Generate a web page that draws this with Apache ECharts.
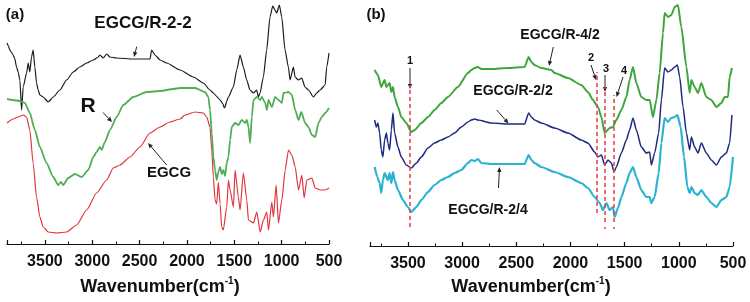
<html>
<head>
<meta charset="UTF-8">
<title>FTIR spectra</title>
<script src="https://cdn.jsdelivr.net/npm/echarts@6/dist/echarts.min.js"></script>
<style>
    body{ margin:0; background:#fff; }
    #main{ width:750px; height:302px; }
</style>
</head>
<body>
<div id="main"></div>
<script>
// wavenumber (cm-1), transmittance (a.u.)
var blackA = [[3900,201],[3885,198],[3870,194],[3855,192],[3835,189],[3820,186],[3799,177],[3782,172],[3764,164],[3746,134],[3729,157],[3693,171],[3676,181],[3659,172],[3641,187],[3624,194],[3606,177],[3588,161],[3571,154],[3553,149],[3518,147],[3465,142],[3412,147],[3341,154],[3271,164],[3200,172],[3130,177],[3059,181],[2989,184],[2936,187],[2919,189],[2884,186],[2848,190],[2813,187],[2743,186],[2567,185],[2390,185],[2373,194],[2337,189],[2284,184],[2214,181],[2073,174],[1932,167],[1827,161],[1756,154],[1721,151],[1690,148],[1670,146],[1650,144],[1620,140],[1605,136],[1597,137],[1580,143],[1562,147],[1510,157],[1474,174],[1439,189],[1404,177],[1369,164],[1334,154],[1298,151],[1263,154],[1246,147],[1228,151],[1193,167],[1158,194],[1123,227],[1094,238],[1070,234],[1052,231],[1024,239],[999,227],[964,194],[929,177],[911,164],[876,177],[858,167],[823,164],[788,166],[753,157],[717,154],[664,147],[629,151],[594,154],[541,159],[524,177],[500,191]];
var greenA = [[3900,145],[3835,144],[3764,143],[3711,141],[3659,131],[3606,114],[3553,97],[3482,81],[3412,67],[3359,59],[3330,62],[3306,59],[3254,66],[3183,70],[3112,67],[3042,74],[2989,87],[2954,92],[2919,97],[2901,94],[2866,102],[2813,114],[2742,127],[2672,139],[2567,147],[2425,152],[2284,153],[2144,155],[2073,156],[1914,156],[1809,152],[1774,147],[1756,134],[1738,111],[1721,87],[1703,74],[1686,64],[1668,72],[1650,77],[1632,70],[1615,74],[1597,68],[1580,81],[1562,87],[1544,104],[1527,117],[1492,121],[1456,119],[1421,124],[1386,121],[1368,124],[1350,117],[1333,101],[1315,127],[1297,144],[1262,147],[1227,144],[1209,147],[1174,141],[1156,134],[1139,144],[1103,137],[1068,147],[1033,144],[998,141],[980,151],[927,152],[892,149],[857,134],[822,124],[793,132],[752,121],[717,117],[681,109],[646,107],[611,121],[576,127],[540,131],[500,136]];
var redA = [[3900,121],[3835,125],[3782,127],[3729,129],[3693,127],[3659,114],[3624,81],[3588,47],[3553,27],[3518,17],[3465,12],[3376,11],[3271,12],[3165,19],[3059,34],[2954,51],[2848,64],[2778,76],[2707,79],[2601,87],[2496,97],[2390,111],[2284,117],[2179,122],[2073,125],[2020,129],[1914,132],[1827,131],[1791,127],[1756,117],[1738,94],[1721,67],[1703,44],[1686,40],[1668,62],[1650,40],[1633,17],[1616,14],[1580,37],[1562,64],[1545,54],[1509,37],[1492,74],[1457,47],[1439,34],[1404,71],[1368,44],[1351,24],[1298,21],[1262,32],[1227,12],[1192,24],[1157,32],[1139,14],[1104,42],[1087,27],[1058,59],[1034,21],[998,44],[963,74],[928,94],[892,89],[857,77],[822,54],[787,69],[762,46],[734,64],[681,66],[646,56],[593,54],[540,54],[500,56]];

var greenB = [[3807,176],[3777,171],[3746,159],[3715,166],[3699,159],[3669,163],[3653,154],[3638,159],[3623,149],[3592,139],[3561,129],[3515,123],[3469,114],[3438,116],[3376,123],[3315,129],[3254,136],[3192,143],[3131,149],[3039,159],[2946,173],[2915,176],[2884,178],[2854,179],[2823,177],[2730,177],[2577,178],[2423,179],[2386,189],[2361,184],[2331,181],[2269,178],[2176,176],[2146,173],[2023,168],[1900,161],[1839,154],[1792,146],[1746,139],[1715,129],[1684,113],[1638,118],[1608,119],[1577,126],[1530,136],[1484,149],[1454,166],[1423,179],[1392,163],[1346,149],[1300,146],[1269,146],[1239,129],[1207,146],[1177,173],[1146,213],[1131,233],[1100,229],[1069,231],[1038,239],[1008,241],[977,219],[930,179],[900,153],[884,166],[854,159],[823,153],[792,163],[746,149],[700,146],[653,139],[607,143],[577,149],[546,149],[531,169],[510,178]];
var navyB = [[3807,126],[3792,119],[3777,123],[3761,113],[3746,96],[3731,89],[3715,106],[3699,113],[3685,103],[3669,96],[3653,116],[3638,133],[3623,113],[3592,99],[3561,89],[3515,81],[3469,78],[3422,83],[3376,89],[3315,98],[3254,103],[3192,106],[3131,109],[3069,113],[3007,119],[2946,124],[2915,126],[2884,127],[2854,126],[2730,123],[2577,122],[2423,122],[2386,133],[2361,129],[2331,126],[2269,123],[2146,118],[2023,113],[1900,106],[1839,103],[1777,94],[1746,89],[1715,91],[1684,81],[1654,86],[1622,83],[1598,74],[1577,79],[1530,93],[1484,106],[1454,116],[1423,128],[1392,116],[1346,99],[1300,93],[1269,94],[1254,81],[1223,93],[1186,113],[1161,146],[1131,178],[1100,174],[1069,176],[1038,179],[1013,181],[992,169],[961,139],[930,113],[900,96],[884,109],[854,99],[823,93],[792,103],[746,93],[700,86],[653,81],[607,89],[561,93],[531,103],[510,131]];
var cyanB = [[3807,79],[3782,69],[3761,63],[3746,53],[3731,66],[3715,73],[3685,66],[3669,73],[3653,63],[3638,74],[3623,66],[3592,56],[3546,46],[3500,39],[3469,34],[3422,39],[3376,46],[3315,54],[3254,61],[3192,66],[3131,69],[3069,73],[3007,76],[2946,83],[2915,86],[2884,85],[2854,87],[2823,83],[2730,82],[2577,82],[2423,82],[2386,91],[2361,86],[2331,83],[2269,79],[2146,74],[2023,69],[1900,63],[1839,58],[1777,49],[1731,43],[1700,36],[1669,43],[1638,36],[1608,39],[1592,29],[1562,38],[1530,49],[1484,63],[1454,73],[1423,79],[1392,69],[1346,56],[1300,49],[1269,49],[1254,43],[1223,49],[1186,73],[1161,103],[1131,128],[1100,124],[1069,128],[1038,129],[1013,131],[983,119],[952,89],[921,59],[900,53],[884,59],[854,53],[823,51],[792,56],[746,49],[700,43],[653,39],[607,46],[561,49],[531,59],[500,89]];

// red dashed guide lines in (b): [wavenumber, from, to]
var guideLines = [[3480,19,161],[1760,33,174],[1686,24,159],[1596,24,151]];
var guideDots = [[1686,17,19],[1596,17,19]];

var myChart = echarts.init(document.getElementById('main'));

var font = 'Liberation Sans, Arial, sans-serif';

function arrow(x1, y1, x2, y2) {
    var a = Math.atan2(y2 - y1, x2 - x1), L = 5, W = 2.2;
    var bx = x2 - L * Math.cos(a), by = y2 - L * Math.sin(a);
    return [{
        type: 'line', silent: true,
        shape: {x1: x1, y1: y1, x2: bx, y2: by},
        style: {stroke: '#222', lineWidth: 1}
    }, {
        type: 'polygon', silent: true,
        shape: {points: [[x2, y2], [bx - W * Math.sin(a), by + W * Math.cos(a)], [bx + W * Math.sin(a), by - W * Math.cos(a)]]},
        style: {fill: '#222'}
    }];
}
function label(x, y, text, size) {
    return {
        type: 'text', silent: true, x: x, y: y,
        style: {text: text, font: 'bold ' + size + 'px ' + font, fill: '#111', align: 'center', verticalAlign: 'middle'}
    };
}
function axisTitle(x, y) {
    return {
        type: 'text', silent: true, x: x, y: y,
        style: {
            text: 'Wavenumber(cm{sup|-1})', align: 'center', verticalAlign: 'middle',
            font: 'bold 18px ' + font, fill: '#111',
            rich: {sup: {fontSize: 10, fontWeight: 'bold', fontFamily: font, verticalAlign: 'top', padding: [0, 0, 12, 0]}}
        }
    };
}

var graphics = [
    label(15, 15, '(a)', 15),
    label(376, 15, '(b)', 15),
    label(143, 23, 'EGCG/R-2-2', 17),
    label(88, 106, 'R', 21),
    label(169, 173, 'EGCG', 15),
    label(560, 35, 'EGCG/R-4/2', 14),
    label(513, 91, 'EGCG/R-2/2', 14),
    label(488, 210, 'EGCG/R-2/4', 14),
    label(410, 61, '1', 11),
    label(591, 58, '2', 11),
    label(606, 69, '3', 11),
    label(624, 71, '4', 11),
    axisTitle(160, 287),
    axisTitle(531, 287)
].concat(
    arrow(136.7, 46.7, 134, 57),
    arrow(103, 112.5, 112, 122),
    arrow(166.7, 165, 148, 143),
    arrow(410, 68, 410, 89),
    arrow(591, 65, 596, 80),
    arrow(605, 75, 605, 92),
    arrow(623, 77, 616.5, 97),
    arrow(553.3, 47, 549, 66),
    arrow(496.7, 110, 508.5, 123.5),
    arrow(498.5, 188, 499.5, 167)
);

function xAxisOf(idx, maxWn) {
    return {
        gridIndex: idx, type: 'value', inverse: true,
        min: 500, max: maxWn, interval: 500,
        axisLine: {lineStyle: {color: '#111', width: 1.2}},
        axisTick: {inside: true, length: 4, lineStyle: {color: '#111', width: 1.2}},
        minorTick: {show: true, splitNumber: 2, length: 2.5, lineStyle: {color: '#111', width: 1}},
        splitLine: {show: false},
        axisLabel: {
            showMaxLabel: false, margin: 10, color: '#111', fontSize: 16, fontWeight: 'bold', fontFamily: font,
            formatter: function (v) { return String(v); }
        }
    };
}
function yAxisOf(idx, maxT) {
    return {gridIndex: idx, type: 'value', min: 0, max: maxT, show: false, splitLine: {show: false}};
}
function spectrum(idx, data, color, width) {
    return {
        type: 'line', xAxisIndex: idx, yAxisIndex: idx, data: data,
        showSymbol: false, symbol: 'none', smooth: 0.2, smoothMonotone: 'x',
        lineStyle: {color: color, width: width}
    };
}

var guideSeries = spectrum(1, [], '#e8474c', 1);
guideSeries.markLine = {
    silent: true, symbol: ['none', 'none'], label: {show: false},
    lineStyle: {color: '#e8474c', width: 1.6, type: [4, 3]},
    data: guideLines.concat(guideDots).map(function (g) {
        return [{coord: [g[0], g[1]]}, {coord: [g[0], g[2]]}];
    })
};

option = {
    animation: false,
    backgroundColor: '#fff',
    grid: [
        {left: 7, right: 421, top: 0, bottom: 58},
        {left: 370, right: 17, top: 0, bottom: 56}
    ],
    xAxis: [xAxisOf(0, 3900), xAxisOf(1, 3850)],
    yAxis: [yAxisOf(0, 244), yAxisOf(1, 246)],
    series: [
        spectrum(0, redA, '#e0363c', 1.2),
        spectrum(0, blackA, '#1a1a1a', 1.2),
        spectrum(0, greenA, '#4fae55', 1.8),
        spectrum(1, cyanB, '#2ab4d2', 2.2),
        spectrum(1, navyB, '#1d2a7f', 1.5),
        spectrum(1, greenB, '#3ca63c', 2),
        guideSeries
    ],
    graphic: graphics
};
myChart.setOption(option);
</script>
</body>
</html>
